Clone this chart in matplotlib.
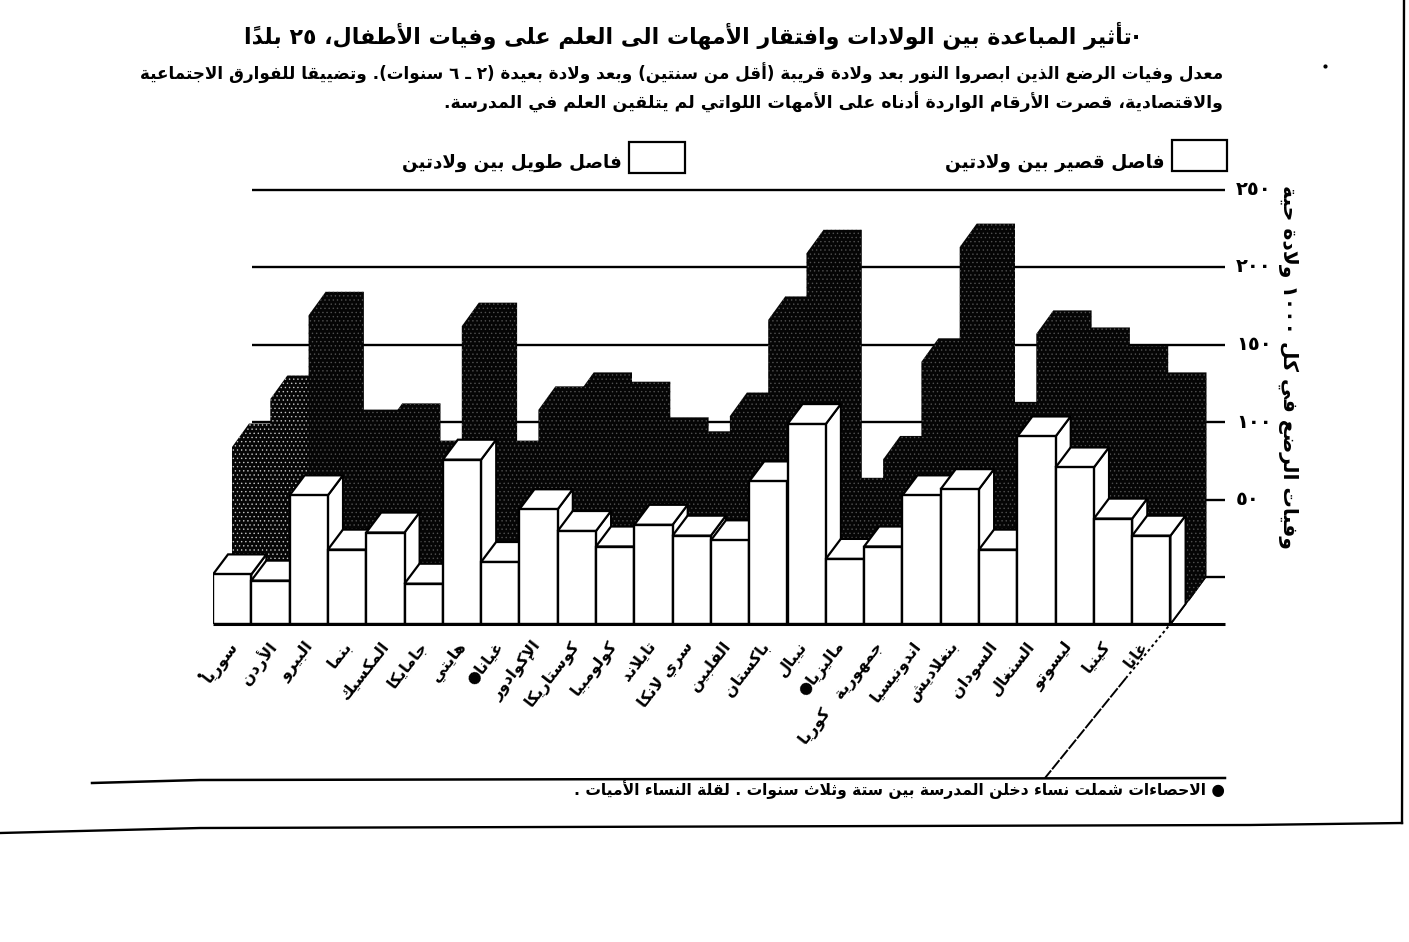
"""Spacing between births and infant deaths: oblique 3D bars drawn on plain axes."""
import matplotlib
matplotlib.use("Agg")
import matplotlib.pyplot as plt
from matplotlib.patches import Polygon, Rectangle

countries = ["سوريا", "الأردن", "البيرو", "بنما", "المكسيك", "جامايكا", "هايتي", "غيانا●",
             "الإكوادور", "كوستاريكا", "كولومبيا", "تايلاند", "سري لانكا", "الفلبين",
             "باكستان", "نيبال", "ماليزيا●", "جمهورية   كوريا", "اندونيسيا", "بنغلاديش",
             "السودان", "السنغال", "ليسوتو", "كينيا", "غانا"]
long_gap = [32, 28, 83, 48, 59, 26, 106, 40, 74, 60, 50, 64, 57, 54, 92, 129, 42, 50, 83, 87,
            48, 121, 101, 68, 57]
short_gap = [99, 130, 184, 108, 112, 88, 177, 88, 123, 132, 126, 103, 94, 119, 181, 224, 64, 91,
             154, 228, 113, 172, 161, 149, 132]
y_ticks = [0, 50, 100, 150, 200, 250]
y_tick_labels = ["", "٥٠", "١٠٠", "١٥٠", "٢٠٠", "٢٥٠"]

title = "·تأثير المباعدة بين الولادات وافتقار الأمهات الى العلم على وفيات الأطفال، ٢٥ بلداً"
sub_1 = "معدل وفيات الرضع الذين ابصروا النور بعد ولادة قريبة (أقل من سنتين) وبعد ولادة بعيدة (٢ ـ ٦ سنوات). وتضييقا للفوارق الاجتماعية"
sub_2 = "والاقتصادية، قصرت الأرقام الواردة أدناه على الأمهات اللواتي لم يتلقين العلم في المدرسة."
legend_short = "فاصل قصير بين ولادتين"
legend_long = "فاصل طويل بين ولادتين"
y_title = "وفيات الرضع في كل ١٠٠٠ ولادة حية"
footnote = "● الاحصاءات شملت نساء دخلن المدرسة بين ستة وثلاث سنوات . لقلة النساء الأميات ."

# ---- arabic shaping by hand, matplotlib only lays glyphs left to right ----
FOUR = dict(zip("ئبتثجحخسشصضطظعغفقكلمنهي",
                [0xFE89, 0xFE8F, 0xFE95, 0xFE99, 0xFE9D, 0xFEA1, 0xFEA5, 0xFEB1, 0xFEB5, 0xFEB9,
                 0xFEBD, 0xFEC1, 0xFEC5, 0xFEC9, 0xFECD, 0xFED1, 0xFED5, 0xFED9, 0xFEDD, 0xFEE1,
                 0xFEE5, 0xFEE9, 0xFEF1]))
TWO = dict(zip("آأؤإاةدذرزوى",
               [0xFE81, 0xFE83, 0xFE85, 0xFE87, 0xFE8D, 0xFE93, 0xFEA9, 0xFEAB, 0xFEAD, 0xFEAF,
                0xFEED, 0xFEEF]))
LAM_ALEF = {"آ": 0xFEF5, "أ": 0xFEF7, "إ": 0xFEF9, "ا": 0xFEFB}
MARK = "\u064b"
KASHIDA = "\u0640"
MIRROR = {"(": ")", ")": "("}


def shape(s):
    tokens = []
    prev_joins = False
    i = 0
    while i < len(s):
        ch = s[i]
        nxt = s[i + 1] if i + 1 < len(s) else ""
        if ch == MARK and tokens:
            tokens[-1] += ch
        elif ch == "ل" and nxt and nxt in LAM_ALEF:
            tokens.append(chr(LAM_ALEF[nxt] + (1 if prev_joins else 0)))
            prev_joins = False
            i += 1
        elif ch in FOUR:
            can_next = nxt != "" and (nxt in FOUR or nxt in TWO or nxt == KASHIDA)
            form = (1 if prev_joins else 0) + (2 if can_next else 0)
            tokens.append(chr(FOUR[ch] + form))
            prev_joins = can_next
        elif ch in TWO:
            tokens.append(chr(TWO[ch] + (1 if prev_joins else 0)))
            prev_joins = False
        elif "٠" <= ch <= "٩":
            if tokens and "٠" <= tokens[-1][-1] <= "٩":
                tokens[-1] += ch
            else:
                tokens.append(ch)
            prev_joins = False
        else:
            tokens.append(MIRROR.get(ch, ch))
            prev_joins = ch == KASHIDA
        i += 1
    return "".join(reversed(tokens))


plt.rcParams["font.family"] = ["DejaVu Sans"]
plt.rcParams["font.weight"] = "bold"
plt.rcParams["hatch.linewidth"] = 0.5

W, H = 1409, 942
fig = plt.figure(figsize=(W / 100, H / 100), dpi=100, facecolor="white")

# chart axes: one bar per x unit, 38.3 px wide; 1.55 px per death
PITCH, SCALE = 38.3, 1.55
LEFT, RIGHT, FLOOR, TOP = 213, 1225, 624, 150
ax = fig.add_axes([LEFT / W, 1 - FLOOR / H, (RIGHT - LEFT) / W, (FLOOR - TOP) / H])
ax.set_xlim(0, (RIGHT - LEFT) / PITCH)
ax.set_ylim(0, (FLOOR - TOP) / SCALE)
for side in ax.spines.values():
    side.set_visible(False)
ax.patch.set_alpha(0)

WALL_DX, WALL_DY = 35 / PITCH, 47 / SCALE       # front floor -> back wall
DARK_DX, DARK_DY = 19 / PITCH, 23.5 / SCALE     # dark bars stand half way back
DARK_TOP_DX = 17 / PITCH
LIGHT_DX, LIGHT_DY = 15 / PITCH, 20 / SCALE     # depth of the white bars

x_right = ax.get_xlim()[1]
ax.hlines([t + WALL_DY for t in y_ticks[1:]], 1.02, x_right, color="black", lw=1.7, zorder=1)
ax.hlines(WALL_DY, 25 + WALL_DX, x_right, color="black", lw=1.7, zorder=1)
ax.hlines(0, 0, x_right, color="black", lw=2.2, zorder=80, clip_on=False)
ax.plot([25, 25 + WALL_DX], [0, WALL_DY], color="black", lw=1.4, zorder=2)

ax.yaxis.tick_right()
ax.set_yticks([t + WALL_DY for t in y_ticks], [shape(t) for t in y_tick_labels], fontsize=14, va="center")
ax.tick_params(axis="y", length=0, pad=8)
# label ends run a touch tighter than the bars
ax.set_xticks([i * 0.99 + 0.58 for i in range(len(countries))], [shape(c) for c in countries],
              rotation=52, ha="right", va="center", rotation_mode="anchor", fontsize=11.5)
ax.tick_params(axis="x", length=0, pad=14)

# dark bars at the back, silhouette only, painted left to right
for i, v in enumerate(short_gap):
    x0 = i + DARK_DX
    x1 = x0 + 1
    y_front = v + DARK_DY
    y_back = v + WALL_DY
    poly = [(x0, DARK_DY), (x0, y_front), (x0 + DARK_TOP_DX, y_back), (x1 + DARK_TOP_DX, y_back),
            (x1 + DARK_TOP_DX, WALL_DY), (x1, DARK_DY)]
    speck = "#c4c4c4" if i < 2 else "#505050"
    ax.add_patch(Polygon(poly, closed=True, fc="#050505", ec=speck, lw=0, hatch="....", zorder=3 + i * 0.01))

# white bars in front, each one over the side face of its left neighbour
for i, v in enumerate(long_gap):
    z = 10 + i
    top = [(i, v), (i + 1, v), (i + 1 + LIGHT_DX, v + LIGHT_DY), (i + LIGHT_DX, v + LIGHT_DY)]
    side = [(i + 1, 0), (i + 1, v), (i + 1 + LIGHT_DX, v + LIGHT_DY), (i + 1 + LIGHT_DX, LIGHT_DY)]
    ax.add_patch(Polygon(side, closed=True, fc="white", ec="black", lw=1.4, zorder=z))
    ax.add_patch(Polygon(top, closed=True, fc="white", ec="black", lw=1.6, zorder=z))
    ax.bar(i, v, width=1, align="edge", color="white", edgecolor="black", lw=1.7, zorder=z)

# page furniture in pixel coordinates
page = fig.add_axes([0, 0, 1, 1], zorder=5)
page.set_xlim(0, W)
page.set_ylim(H, 0)
page.axis("off")
renderer = fig.canvas.get_renderer()


def fitted(text, x, y, width, ha="right", rotation=0, size=10):
    t = page.text(x, y, shape(text), ha=ha, va="center", rotation=rotation, fontsize=size)
    box = t.get_window_extent(renderer)
    t.set_fontsize(size * width / (box.height if rotation else box.width))
    return t


fitted(title, 1140, 35, 900)
fitted(sub_1, 1223, 73, 1078)
fitted(sub_2, 1223, 102, 780)
fitted(legend_short, 1165, 162, 220)
fitted(legend_long, 622, 163, 220)
fitted(y_title, 1288, 367, 365, ha="center", rotation=270)
fitted(footnote, 1225, 790, 655)

page.add_patch(Rectangle((1172, 140), 55, 31, fc="white", ec="black", lw=1.6))
page.add_patch(Rectangle((629, 142), 56, 31, fc="white", ec="black", lw=1.6))
page.plot([92, 200, 1225], [783, 780, 778], color="black", lw=1.8)
page.plot([1172, 1126], [622, 678], color="black", lw=1.4, ls=(0, (1.5, 1.5)))
page.plot([1126, 1045], [678, 778], color="black", lw=1.4, ls=(0, (6, 0.8)))
page.plot([1404, 1402], [0, 823], color="black", lw=1.7)
page.plot([0, 200, 1250, 1402], [833, 828, 825, 823], color="black", lw=1.7)
page.plot([1325, 199], [66, 675], ls="none", marker="o", ms=2, color="black")

fig.savefig("out.png", dpi=100)
